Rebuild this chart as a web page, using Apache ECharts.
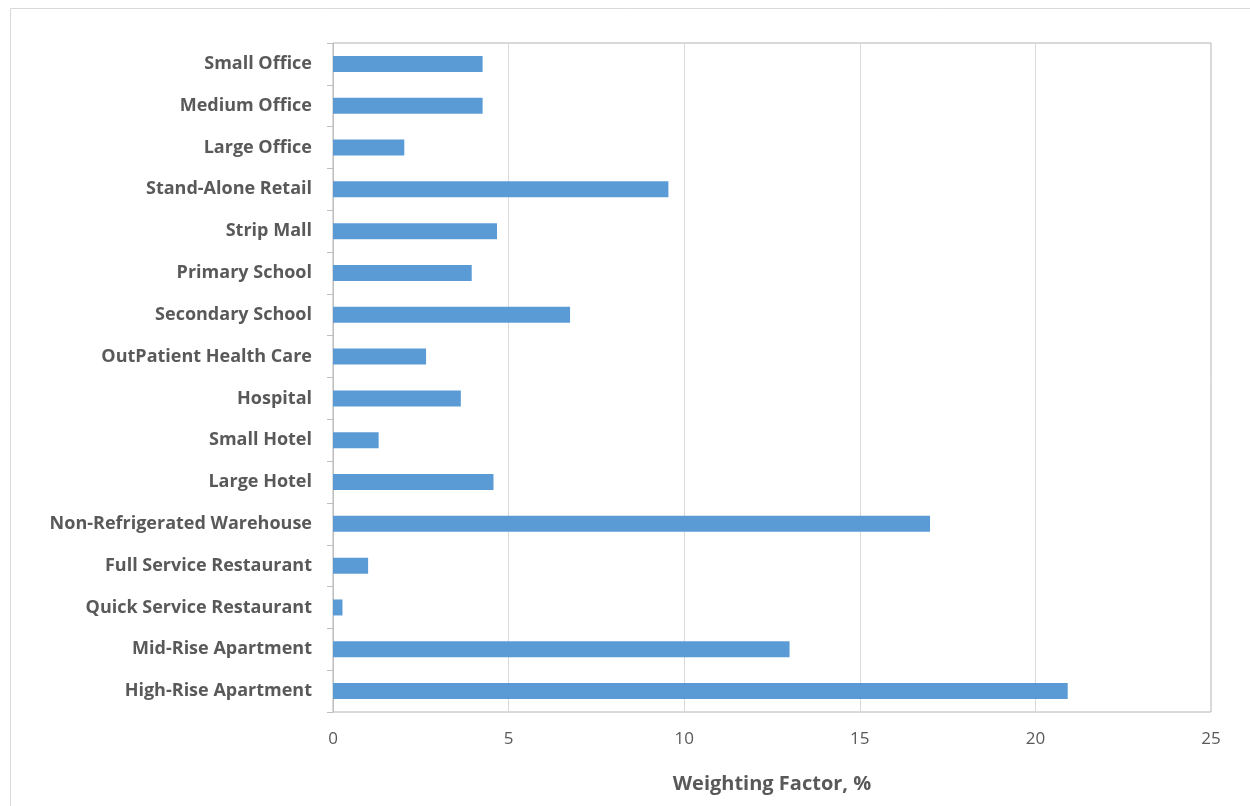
<!DOCTYPE html>
<html>
<head>
<meta charset="utf-8">
<script src="https://cdn.jsdelivr.net/npm/echarts@6/dist/echarts.min.js"></script>
<style>
html,body{margin:0;padding:0;background:#fff;}
#chart{width:1250px;height:806px;}
</style>
</head>
<body>
<div id="chart"></div>
<script>
const categories = [
  'Small Office','Medium Office','Large Office','Stand-Alone Retail','Strip Mall',
  'Primary School','Secondary School','OutPatient Health Care','Hospital','Small Hotel',
  'Large Hotel','Non-Refrigerated Warehouse','Full Service Restaurant','Quick Service Restaurant',
  'Mid-Rise Apartment','High-Rise Apartment'
];
const weights = [4.26, 4.26, 2.03, 9.55, 4.67, 3.95, 6.75, 2.65, 3.64, 1.30, 4.57, 17.0, 1.0, 0.27, 13.0, 20.92];
const xTicks = [0, 5, 10, 15, 20, 25];
const xTitle = 'Weighting Factor, %';

const chart = echarts.init(document.getElementById('chart'));
chart.setOption({
  animation: false,
  backgroundColor: '#fff',
  graphic: [{
    type: 'rect', left: 8, top: 6, z: -1,
    shape: { width: 1260, height: 820 },
    style: { fill: 'none', stroke: '#d9d9d9', lineWidth: 1 }
  }],
  grid: {
    left: 333, right: 39, top: 43, bottom: 94,
    show: true, borderColor: '#b4b4b4', borderWidth: 1
  },
  xAxis: {
    type: 'value', min: xTicks[0], max: xTicks[xTicks.length - 1], interval: 5,
    name: xTitle, nameLocation: 'middle', nameGap: 62,
    nameTextStyle: { fontFamily: 'Open Sans', fontWeight: 'bold', fontSize: 20, color: '#595959' },
    axisLine: { show: false },
    axisTick: { show: false },
    axisLabel: { fontFamily: 'Open Sans', fontSize: 17, color: '#595959', margin: 19 },
    splitLine: { lineStyle: { color: '#d9d9d9', width: 1 } }
  },
  yAxis: {
    type: 'category', data: categories, inverse: true,
    axisLine: { lineStyle: { color: '#bfbfbf' } },
    axisTick: { show: true, length: 6, lineStyle: { color: '#bfbfbf' } },
    axisLabel: { fontFamily: 'Open Sans', fontWeight: 'bold', fontSize: 18, color: '#595959', margin: 21 },
    splitLine: { show: false }
  },
  series: [{
    type: 'bar', data: weights, barWidth: 16,
    itemStyle: { color: '#5b9bd5' }
  }]
});
</script>
</body>
</html>
